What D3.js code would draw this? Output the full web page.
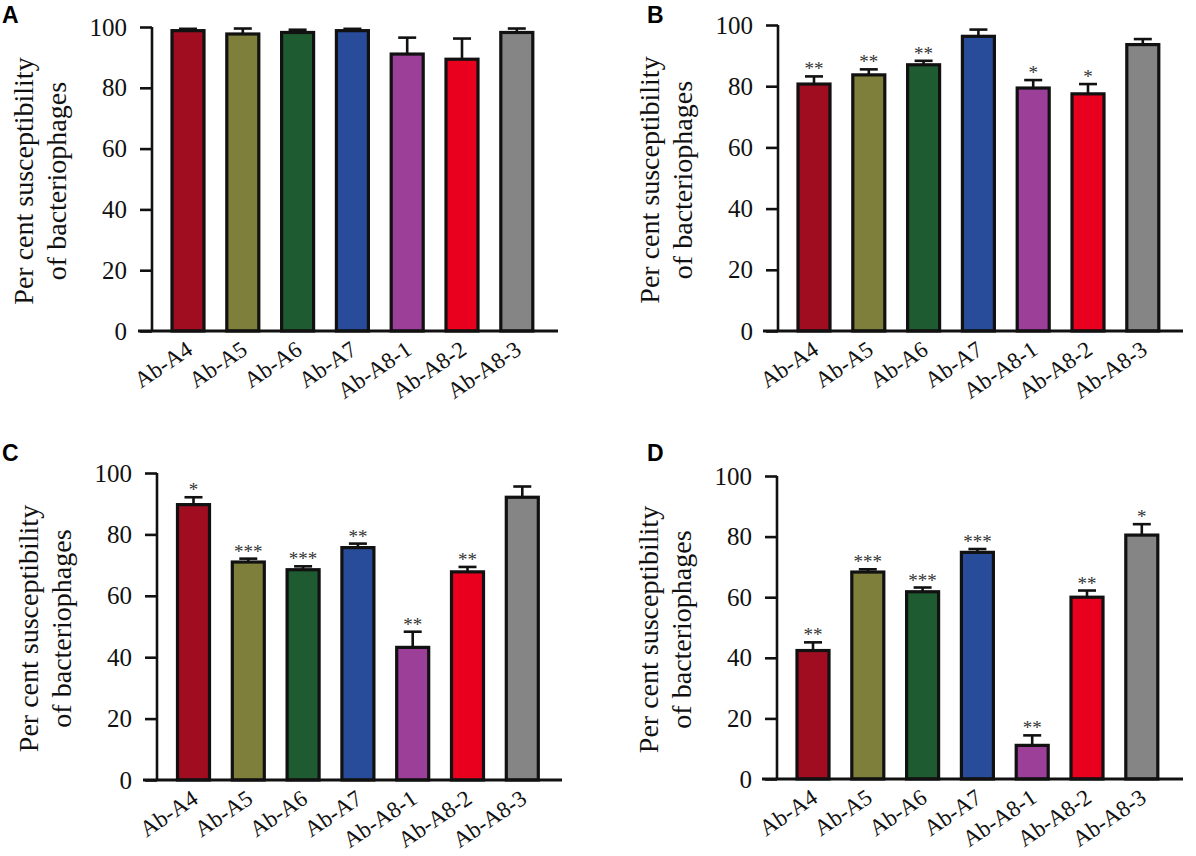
<!DOCTYPE html>
<html>
<head>
<meta charset="utf-8">
<script src="https://cdn.jsdelivr.net/npm/d3@7"></script>
<style>
  body { margin: 0; background: #fff; }
  svg { display: block; }
  .tick text { font-family: "Liberation Serif", "Times New Roman", serif; }
</style>
</head>
<body>
<div class="chart"></div>
<script>
// categories and colours shared by all four panels
var categories = ["Ab-A4", "Ab-A5", "Ab-A6", "Ab-A7", "Ab-A8-1", "Ab-A8-2", "Ab-A8-3"];
var barColors = ["#a00d20", "#7f7f3c", "#1f5b30", "#284b9a", "#9c3f98", "#e8001e", "#858585"];
var yTicks = [0, 20, 40, 60, 80, 100];

// panel A
var valuesA = [98.8, 97.7, 98.2, 98.8, 91.1, 89.4, 98.2];
var errorsA = [0.6, 1.8, 0.9, 0.6, 5.4, 6.8, 1.3];
var starsA = ["", "", "", "", "", "", ""];
// panel B
var valuesB = [80.7, 83.7, 87.0, 96.3, 79.4, 77.5, 93.6];
var errorsB = [2.5, 1.8, 1.3, 2.2, 2.6, 3.2, 1.8];
var starsB = ["**", "**", "**", "", "*", "*", ""];
// panel C
var valuesC = [89.7, 71.0, 68.5, 75.7, 43.2, 67.8, 92.1];
var errorsC = [2.4, 1.1, 1.1, 1.3, 5.1, 1.6, 3.5];
var starsC = ["*", "***", "***", "**", "**", "**", ""];
// panel D
var valuesD = [42.4, 68.3, 61.8, 74.8, 11.1, 60.0, 80.5];
var errorsD = [2.7, 0.9, 1.4, 1.1, 3.3, 2.2, 3.6];
var starsD = ["**", "***", "***", "***", "**", "**", "*"];

var svgWidth = 1196;
var svgHeight = 856;
var step = 54.8;

var svg = d3.select(".chart")
  .append("svg")
  .attr("width", svgWidth)
  .attr("height", svgHeight);

var panels = [
  { letter: "A", lx: 2, ly: 23, axisX: 152, first: 188, top: 27, bottom: 331, x0: 138, x1: 558,
    values: valuesA, errors: errorsA, stars: starsA },
  { letter: "B", lx: 647, ly: 23, axisX: 778, first: 814, top: 25, bottom: 331, x0: 763, x1: 1183,
    values: valuesB, errors: errorsB, stars: starsB },
  { letter: "C", lx: 2, ly: 461, axisX: 157, first: 193.5, top: 473, bottom: 780, x0: 143, x1: 562,
    values: valuesC, errors: errorsC, stars: starsC },
  { letter: "D", lx: 647, ly: 461, axisX: 777, first: 813, top: 476, bottom: 779, x0: 762, x1: 1183,
    values: valuesD, errors: errorsD, stars: starsD }
];

panels.forEach(function(p) {
  var data = categories.map(function(c, i) {
    return { name: c, value: p.values[i], err: p.errors[i], star: p.stars[i], color: barColors[i] };
  });

  var start = p.first - step / 2;
  var xScale = d3.scaleBand()
    .domain(categories)
    .range([start, start + step * categories.length])
    .paddingInner(0.416)
    .paddingOuter(0.208);

  var yScale = d3.scaleLinear().domain([0, 100]).range([p.bottom, p.top]);

  var g = svg.append("g");

  // panel letter
  g.append("text")
    .attr("x", p.lx)
    .attr("y", p.ly)
    .attr("font-family", "Liberation Sans, Arial, sans-serif")
    .attr("font-weight", "bold")
    .attr("font-size", "23px")
    .text(p.letter);

  // bars
  g.selectAll("rect.bar")
    .data(data)
    .enter()
    .append("rect")
    .attr("class", "bar")
    .attr("x", function(d) { return xScale(d.name); })
    .attr("y", function(d) { return yScale(d.value); })
    .attr("width", xScale.bandwidth())
    .attr("height", function(d) { return yScale(0) - yScale(d.value); })
    .attr("fill", function(d) { return d.color; })
    .attr("stroke", "#111")
    .attr("stroke-width", 3.2);

  // error bars (upper only)
  g.selectAll("line.err")
    .data(data)
    .enter()
    .append("line")
    .attr("class", "err")
    .attr("x1", function(d) { return xScale(d.name) + xScale.bandwidth() / 2; })
    .attr("x2", function(d) { return xScale(d.name) + xScale.bandwidth() / 2; })
    .attr("y1", function(d) { return yScale(d.value); })
    .attr("y2", function(d) { return yScale(d.value + d.err); })
    .attr("stroke", "#111")
    .attr("stroke-width", 2.6);

  g.selectAll("line.cap")
    .data(data)
    .enter()
    .append("line")
    .attr("class", "cap")
    .attr("x1", function(d) { return xScale(d.name) + xScale.bandwidth() / 2 - 9; })
    .attr("x2", function(d) { return xScale(d.name) + xScale.bandwidth() / 2 + 9; })
    .attr("y1", function(d) { return yScale(d.value + d.err); })
    .attr("y2", function(d) { return yScale(d.value + d.err); })
    .attr("stroke", "#111")
    .attr("stroke-width", 2.6);

  // significance stars
  g.selectAll("text.star")
    .data(data.filter(function(d) { return d.star !== ""; }))
    .enter()
    .append("text")
    .attr("class", "star")
    .attr("x", function(d) { return xScale(d.name) + xScale.bandwidth() / 2; })
    .attr("y", function(d) { return yScale(d.value + d.err) - 1; })
    .attr("text-anchor", "middle")
    .attr("font-family", "Liberation Serif, serif")
    .attr("font-size", "19px")
    .attr("fill", "#333")
    .text(function(d) { return d.star; });

  // y axis
  var leftAxis = d3.axisLeft(yScale)
    .tickValues(yTicks)
    .tickSize(12)
    .tickPadding(13);

  var yAxisG = g.append("g")
    .attr("transform", "translate(" + p.axisX + ",0)")
    .call(leftAxis);
  yAxisG.select(".domain").remove();
  yAxisG.selectAll(".tick line").attr("stroke", "#111").attr("stroke-width", 2.6);
  yAxisG.selectAll(".tick text")
    .attr("font-size", "25px")
    .attr("fill", "#111");

  g.append("line")
    .attr("x1", p.axisX).attr("x2", p.axisX)
    .attr("y1", yScale(100)).attr("y2", yScale(0))
    .attr("stroke", "#111")
    .attr("stroke-width", 2.6);

  // x axis
  var bottomAxis = d3.axisBottom(xScale).tickSize(0).tickPadding(0);
  var xAxisG = g.append("g")
    .attr("transform", "translate(0," + p.bottom + ")")
    .call(bottomAxis);
  xAxisG.select(".domain").remove();
  xAxisG.selectAll(".tick text")
    .attr("font-size", "23px")
    .attr("fill", "#111")
    .attr("text-anchor", "end")
    .attr("dy", null)
    .attr("y", null)
    .attr("transform", "translate(6,22) rotate(-34)");

  g.append("line")
    .attr("x1", p.x0).attr("x2", p.x1)
    .attr("y1", p.bottom).attr("y2", p.bottom)
    .attr("stroke", "#111")
    .attr("stroke-width", 3);

  // y axis title, two lines
  var midY = (p.top + p.bottom) / 2 + 2;
  var title = g.append("text")
    .attr("transform", "translate(" + (p.axisX - 119) + "," + midY + ") rotate(-90)")
    .attr("text-anchor", "middle")
    .attr("font-family", "Liberation Serif, serif")
    .attr("font-size", "28px")
    .attr("fill", "#111");
  title.append("tspan").attr("x", 0).attr("y", 0).text("Per cent susceptibility");
  title.append("tspan").attr("x", 0).attr("y", 33).text("of bacteriophages");
});
</script>
</body>
</html>
